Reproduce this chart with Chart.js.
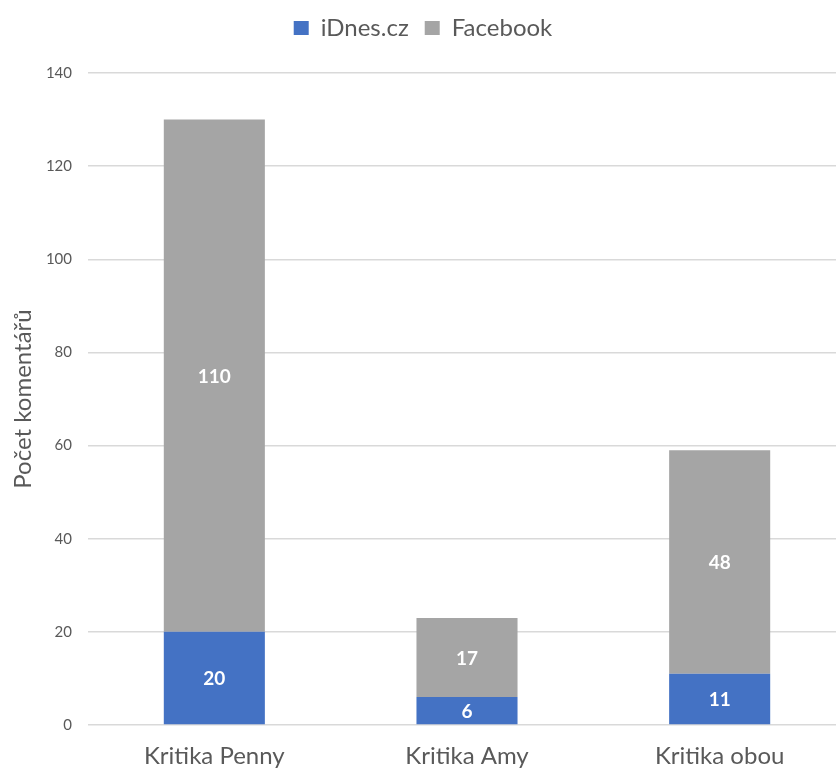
<!DOCTYPE html>
<html>
<head>
<meta charset="utf-8">
<script src="https://cdn.jsdelivr.net/npm/chart.js@4.4.1/dist/chart.umd.min.js"></script>
<style>
  html, body { margin: 0; padding: 0; background: #fff; overflow: hidden; }
  #wrap { width: 836px; height: 770px; overflow: hidden; position: relative; }
  #box { width: 846px; height: 770px; position: absolute; left: 0; top: 0; }
</style>
</head>
<body>
<div id="wrap"><div id="box"><canvas id="commentChart"></canvas></div></div>
<script>
// data
const categories = ["Kritika Penny", "Kritika Amy", "Kritika obou"];
const idnesValues = [20, 6, 11];
const facebookValues = [110, 17, 48];
const yTicks = [0, 20, 40, 60, 80, 100, 120, 140];

const FONT = "Lato, 'Open Sans', sans-serif";

// white value labels in the middle of each bar piece
const barLabels = {
  id: "barLabels",
  afterDatasetsDraw(chart) {
    const ctx = chart.ctx;
    ctx.save();
    ctx.fillStyle = "#ffffff";
    ctx.font = "bold 19px " + FONT;
    ctx.textAlign = "center";
    ctx.textBaseline = "middle";
    chart.data.datasets.forEach((ds, di) => {
      chart.getDatasetMeta(di).data.forEach((bar, i) => {
        const y = (bar.y + bar.base) / 2;
        ctx.fillText(String(ds.data[i]), bar.x, y + 1);
      });
    });
    ctx.restore();
  },
};

// more room under the legend
const legendGap = {
  id: "legendGap",
  beforeInit(chart) {
    const fit = chart.legend.fit;
    chart.legend.fit = function () {
      fit.call(this);
      this.height += 23;
    };
  },
};

const ctx = document.getElementById("commentChart").getContext("2d");
new Chart(ctx, {
  type: "bar",
  data: {
    labels: categories,
    datasets: [
      {
        label: "iDnes.cz",
        data: idnesValues,
        backgroundColor: "#4472c4",
        barPercentage: 0.4,
        categoryPercentage: 1,
      },
      {
        label: "Facebook",
        data: facebookValues,
        backgroundColor: "#a5a5a5",
        barPercentage: 0.4,
        categoryPercentage: 1,
      },
    ],
  },
  options: {
    responsive: true,
    maintainAspectRatio: false,
    animation: false,
    layout: { padding: 0 },
    plugins: {
      legend: {
        position: "top",
        labels: {
          boxWidth: 15,
          boxHeight: 14,
          padding: 16,
          color: "#595959",
          font: { family: FONT, size: 24 },
        },
      },
      tooltip: { enabled: false },
    },
    scales: {
      x: {
        stacked: true,
        grid: { display: false },
        border: { display: false },
        afterFit(scale) {
          scale.height = 45;
        },
        ticks: {
          color: "#595959",
          font: { family: FONT, size: 24 },
          padding: 9,
        },
      },
      y: {
        stacked: true,
        min: 0,
        max: 140,
        afterBuildTicks(scale) {
          scale.ticks = yTicks.map((v) => ({ value: v }));
        },
        afterFit(scale) {
          scale.width = 88;
        },
        grid: { color: "#d9d9d9", lineWidth: 1.5, drawTicks: false },
        border: { display: false },
        ticks: {
          color: "#595959",
          font: { family: FONT, size: 15 },
          padding: 16,
        },
        title: {
          display: true,
          text: "Počet komentářů",
          color: "#595959",
          font: { family: FONT, size: 24 },
          padding: { top: 9, bottom: 0 },
        },
      },
    },
  },
  plugins: [barLabels, legendGap],
});
</script>
</body>
</html>
